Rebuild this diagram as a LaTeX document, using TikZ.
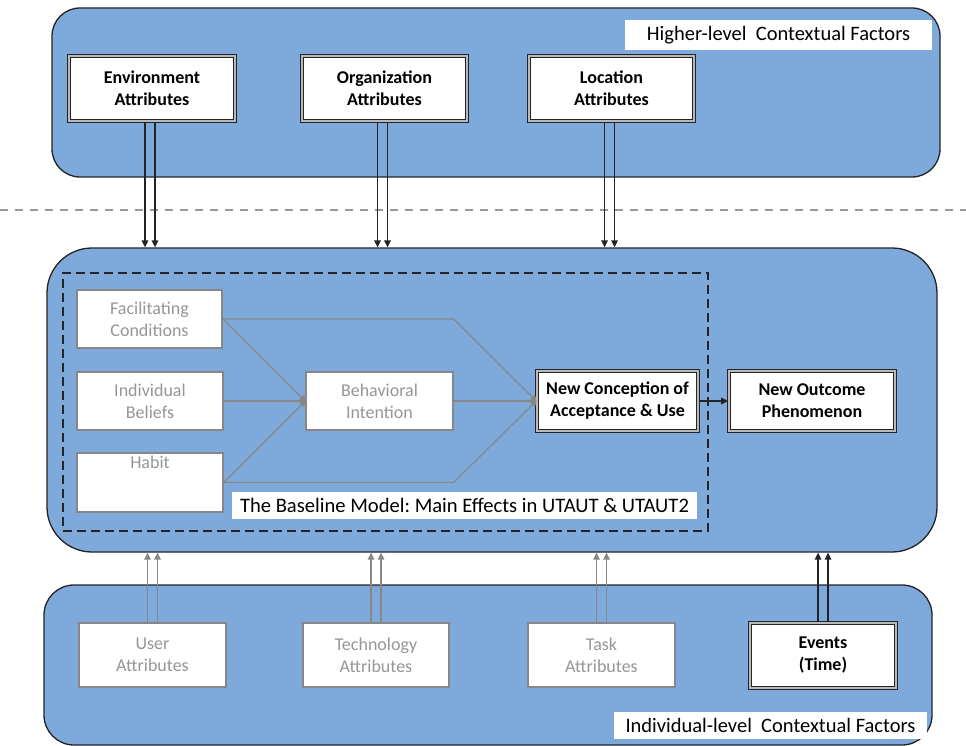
\documentclass[tikz,border=0pt]{standalone}
\usepackage{fontspec}
\setmainfont{Carlito}
\usetikzlibrary{arrows.meta}
\definecolor{bluefill}{RGB}{126,170,219}
\definecolor{dk}{RGB}{35,35,40}
\definecolor{gline}{RGB}{135,135,135}
\definecolor{gtext}{RGB}{150,150,150}
\frenchspacing
\begin{document}
\begin{tikzpicture}[x=1pt,y=-1pt,
  panel/.style={draw=dk, line width=1.3pt, fill=bluefill},
  darkbox/.style={draw=dk, line width=1.6pt, double=gray!55, double distance=1.1pt, fill=white,
    font=\fontsize{18}{22}\selectfont\bfseries, align=center, inner sep=0pt},
  graybox/.style={draw=gline, line width=1.3pt, fill=white, text=gtext,
    font=\fontsize{18}{22}\selectfont, align=center, inner sep=0pt},
  tag/.style={fill=white, inner sep=0pt, font=\fontsize{20.5}{22}\selectfont},
  blkarrow/.style={draw=dk, line width=1.4pt, -{Triangle[length=7pt,width=6.5pt]}},
  grayarrow/.style={draw=gline, line width=1.4pt, -{Triangle[length=7pt,width=6.5pt]}},
  graytip/.style={draw=gline, line width=1.2pt, -{Triangle[length=6pt,width=7pt,round]}}
]
\useasboundingbox (0,0) rectangle (966,746);

% separator
\draw[gray!80, line width=1.6pt, dash pattern=on 8pt off 7pt] (0,210) -- (966,210);

% ---------- top panel ----------
\node[panel, rounded corners=28pt, minimum width=888pt, minimum height=169pt] (top) at (496,92.5) {};
\node[tag, minimum width=307pt, minimum height=30pt] (hightag) at (778.5,35) {Higher-level\ \ Contextual Factors};

\node[darkbox, minimum width=166pt, minimum height=65pt] (env) at (152,88.5) {Environment\\Attributes};
\node[darkbox, minimum width=165pt, minimum height=65pt] (org) at (384.5,88.5) {Organization\\Attributes};
\node[darkbox, minimum width=165pt, minimum height=65pt] (loc) at (611.5,88.5) {Location\\Attributes};

% ---------- middle panel ----------
\node[panel, rounded corners=45pt, minimum width=890pt, minimum height=304pt] (mid) at (492,400) {};
\node[draw=dk, line width=1.5pt, dash pattern=on 9pt off 5pt, minimum width=645pt, minimum height=258pt, inner sep=0pt] (base) at (385.5,402) {};

\node[graybox, minimum width=145pt, minimum height=58pt] (fc) at (149.5,319) {Facilitating\\Conditions};
\node[graybox, minimum width=146pt, minimum height=58pt] (ib) at (150,401) {Individual\\Beliefs};
\node[graybox, minimum width=146pt, minimum height=59pt,
  label={[anchor=north, text=gtext, font=\fontsize{18}{22}\selectfont, inner sep=0pt, yshift=-3pt]north:Habit}] (habit) at (150,482.5) {};
\node[graybox, minimum width=147pt, minimum height=58pt] (bi) at (379.5,401) {Behavioral\\Intention};

\node[darkbox, minimum width=161pt, minimum height=60pt] (nc) at (617.5,401) {New Conception of\\Acceptance \& Use};
\node[darkbox, minimum width=166pt, minimum height=60pt] (no) at (812,401) {New Outcome\\Phenomenon};

\node[tag, minimum width=465pt, minimum height=27pt, font=\fontsize{20.6}{22}\selectfont] (basetag) at (464.5,505.5) {The Baseline Model: Main Effects in UTAUT \& UTAUT2};

% gray connectors
\draw[graytip] (fc.east) -- (bi.west);
\draw[graytip] (ib.east) -- (bi.west);
\draw[graytip] (habit.east) -- (bi.west);
\draw[graytip] (fc.east) -- (fc.east -| bi.east) -- (nc.west);
\draw[graytip] (bi.east) -- (nc.west);
\draw[graytip] (habit.east) -- (habit.east -| bi.east) -- (nc.west);

\draw[blkarrow] (nc.east) -- (no.west);

% top arrows
\foreach \n in {env,org,loc}{
  \draw[blkarrow] ([xshift=-7pt]\n.south) -- ([xshift=-7pt]\n.south |- mid.north);
  \draw[blkarrow] ([xshift=3pt]\n.south) -- ([xshift=3pt]\n.south |- mid.north);
}

% ---------- bottom panel ----------
\node[panel, rounded corners=30pt, minimum width=888pt, minimum height=160pt] (bot) at (488,665) {};
\node[graybox, minimum width=147pt, minimum height=64pt] (user) at (152.5,655) {User\\Attributes};
\node[graybox, minimum width=146pt, minimum height=64pt] (tech) at (376,655) {Technology\\Attributes};
\node[graybox, minimum width=147pt, minimum height=64pt] (task) at (601.5,655) {Task\\Attributes};
\node[darkbox, minimum width=146pt, minimum height=65pt] (ev) at (823,655.5) {Events\\(Time)};
\node[tag, minimum width=313pt, minimum height=27pt] (indtag) at (770.5,725.5) {Individual-level\ \ Contextual Factors};

\foreach \n in {user,tech,task}{
  \draw[grayarrow] ([xshift=-5pt]\n.north) -- ([xshift=-5pt]\n.north |- mid.south);
  \draw[grayarrow] ([xshift=5pt]\n.north) -- ([xshift=5pt]\n.north |- mid.south);
}
\draw[blkarrow] ([xshift=-5pt]ev.north) -- ([xshift=-5pt]ev.north |- mid.south);
\draw[blkarrow] ([xshift=5pt]ev.north) -- ([xshift=5pt]ev.north |- mid.south);
\end{tikzpicture}
\end{document}
